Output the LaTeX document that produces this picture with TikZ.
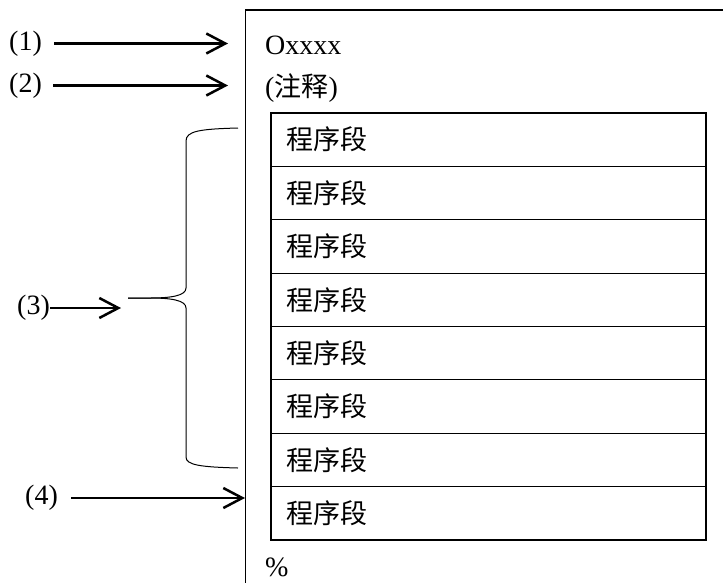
\documentclass[tikz,border=0pt]{standalone}
\usepackage{fontspec}
\setmainfont{Liberation Serif}
\newfontfamily\cjk{Noto Sans CJK SC}
\usetikzlibrary{arrows.meta}
\begin{document}
\begin{tikzpicture}[x=1pt,y=-1pt,
  lbl/.style={inner sep=0pt,anchor=west,font=\fontsize{28}{31}\selectfont},
  arr/.style={line width=2.5pt,-{Straight Barb[length=19pt,width=20pt]}},
  rowbox/.style={draw,line width=1.2pt,minimum width=435pt,minimum height=53.375pt,
    text width=405pt,inner xsep=15pt,inner ysep=0pt,align=left,
    font=\fontsize{27}{30}\selectfont\cjk},
  brace/.style={line width=1pt}]
\useasboundingbox (0,0) rectangle (723,582);
% outer frame
\draw[line width=1.2pt] (245.5,590) -- (245.5,10) -- (740,10);
% header texts
\node[lbl] (hdr) at (265,45) {Oxxxx};
\node[lbl] (cmt) at (265,88) {({\cjk\fontsize{27}{30}\selectfont 注释})};
\node[lbl] (pct) at (265,567) {\%};
% rows
\foreach \i in {1,...,8}{
  \node[rowbox] (r\i) at (488.5,{113+53.375*(\i-0.5)}) {程序段};
}
% labels
\node[lbl] (l1) at (9,43.5) {(1)};
\node[lbl] (l2) at (9,85.5) {(2)};
\node[lbl] (l3) at (17,308) {(3)};
\node[lbl] (l4) at (25,498) {(4)};
\coordinate (t1) at (228,43.5);
\coordinate (t2) at (228,85.5);
\coordinate (t3) at (121,308);
\coordinate (t4) at (245,498);
\draw[arr,shorten <=12pt] (l1) -- (t1);
\draw[arr,shorten <=11pt] (l2) -- (t2);
\draw[arr] (l3) -- (t3);
\draw[arr,shorten <=13pt] (l4) -- (t4);
% brace
\coordinate (btop) at (238,128);
\coordinate (btip) at (128,298);
\coordinate (bbot) at (238,468);
\draw[brace] (btop) .. controls (200,129) and (186,131) .. (186,141)
  -- (186,288) .. controls (186,296) and (170,298) .. (150,298) -- (btip);
\draw[brace] (btip) -- (150,298) .. controls (170,298) and (186,300) .. (186,308)
  -- (186,457) .. controls (186,465) and (200,467) .. (bbot);
\end{tikzpicture}
\end{document}
